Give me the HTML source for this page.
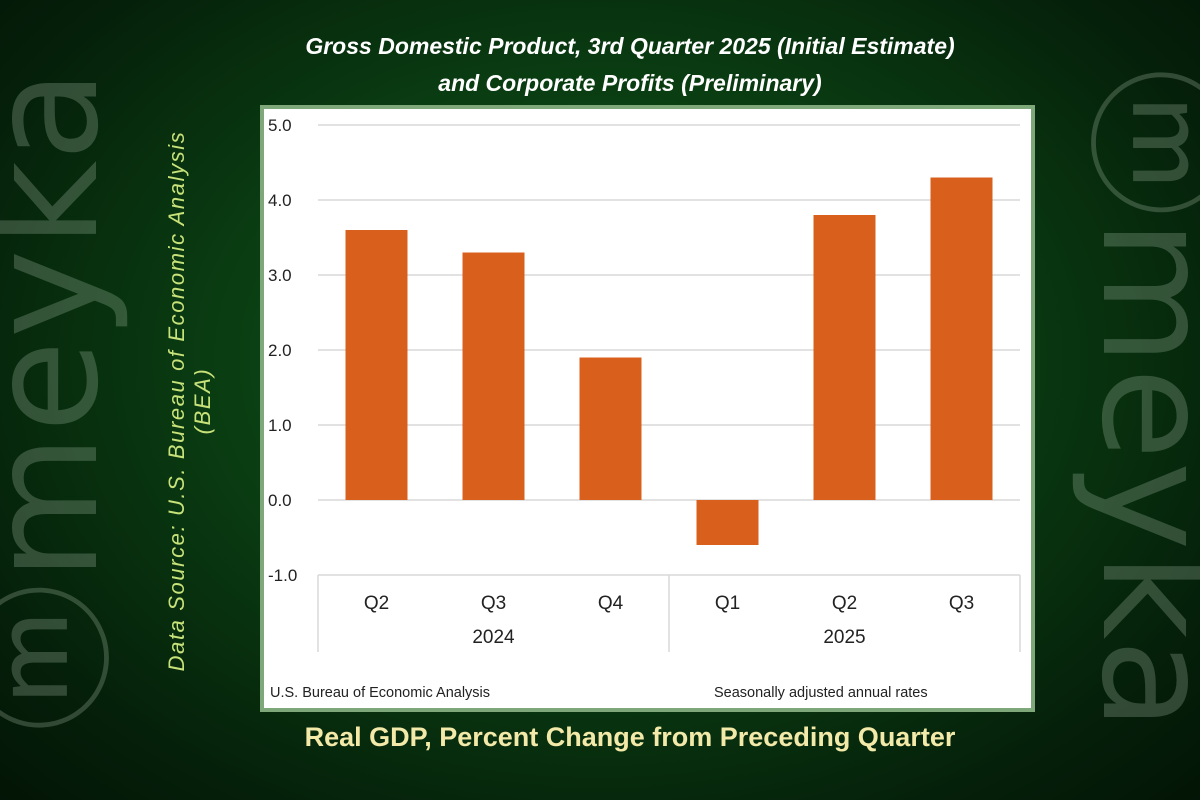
<!DOCTYPE html>
<html><head><meta charset="utf-8"><style>
html,body{margin:0;width:1200px;height:800px;overflow:hidden}
body{font-family:"Liberation Sans",sans-serif}
#wrap{position:relative;width:1200px;height:800px;overflow:hidden}
#bg{position:absolute;left:0;top:0;width:1200px;height:800px;background:radial-gradient(ellipse at 50% 45%,#0f5a1c 0%,#0a3d12 45%,#05200a 80%,#031506 100%)}
.wm{position:absolute;font-family:"DejaVu Sans",sans-serif;font-weight:normal;font-size:150px;color:rgba(170,190,170,0.28);white-space:nowrap;letter-spacing:2px;line-height:150px}
.t{position:absolute;left:0;width:1200px;text-align:center;color:#fff;font-style:italic;font-weight:bold;font-size:23px}
</style></head><body><div id="wrap">
<div id="bg"></div>
<div class="wm" style="left:-355px;top:325px;width:800px;text-align:center;transform:rotate(-90deg)">ⓜmeyka</div>
<div class="wm" style="left:755px;top:325px;width:800px;text-align:center;transform:rotate(90deg)">ⓜmeyka</div>
<div class="t" style="top:33px;left:30px">Gross Domestic Product, 3rd Quarter 2025 (Initial Estimate)</div>
<div class="t" style="top:70px;left:30px">and Corporate Profits (Preliminary)</div>
<div style="position:absolute;left:-105px;top:375px;width:590px;text-align:center;transform:rotate(-90deg);color:#c8e27a;font-style:italic;font-size:22px;letter-spacing:1.6px;line-height:26px">Data Source: U.S. Bureau of Economic Analysis<br>(BEA)</div>
<div style="position:absolute;left:30px;width:1200px;top:722px;text-align:center;color:#f3e9a8;font-weight:bold;font-size:27px">Real GDP, Percent Change from Preceding Quarter</div>
<svg id="chart" width="1200" height="800" style="position:absolute;left:0;top:0"></svg>
</div>
<script>
const categories=["Q2","Q3","Q4","Q1","Q2","Q3"];
const years=["2024","2025"];
const values=[3.6,3.3,1.9,-0.6,3.8,4.3];
const ticks=[5,4,3,2,1,0,-1];
const ns="http://www.w3.org/2000/svg",svg=document.getElementById("chart");
function mk(t,a,txt){const e=document.createElementNS(ns,t);for(const k in a)e.setAttribute(k,a[k]);if(txt!=null)e.textContent=txt;svg.appendChild(e);return e;}
const x0=318,x1=1020,cw=(x1-x0)/categories.length;
const y=v=>500-v*75;
const xc=i=>x0+cw*(i+0.5);
let e=mk("rect",{x:262,y:107,width:771,height:603,fill:"#fff",stroke:"#7fa87a","stroke-width":4});


ticks.forEach(t=>{
  if(t>-1){e=mk("line",{x1:x0,x2:x1,y1:y(t),y2:y(t),stroke:"#d9d9d9","stroke-width":1.5});
  
  }
  e=mk("text",{x:268,y:y(t)+6,"font-size":17,fill:"#222","font-family":"Liberation Sans, sans-serif"},t.toFixed(1));
  
  
});
values.forEach((v,i)=>{
  const top=Math.min(y(v),y(0)),h=Math.abs(y(v)-y(0));
  e=mk("rect",{x:xc(i)-31,y:top,width:62,height:h,fill:"#d8601c"});
  
  
  e=mk("text",{x:xc(i),y:609,"text-anchor":"middle","font-size":19,fill:"#222"},categories[i]);
  
  
});
e=mk("line",{x1:x0,x2:x1,y1:575,y2:575,stroke:"#d9d9d9","stroke-width":1.5});


[0,3,6].forEach(k=>{e=mk("line",{x1:x0+cw*k,x2:x0+cw*k,y1:575,y2:652,stroke:"#d9d9d9","stroke-width":1.5});

});
years.forEach((yr,j)=>{e=mk("text",{x:x0+cw*(1.5+3*j),y:643,"text-anchor":"middle","font-size":19,fill:"#222"},yr);

});
e=mk("text",{x:270,y:697,"font-size":14.5,fill:"#222"},"U.S. Bureau of Economic Analysis");


e=mk("text",{x:714,y:697,"font-size":14.5,fill:"#222"},"Seasonally adjusted annual rates");


</script>
</body></html>
